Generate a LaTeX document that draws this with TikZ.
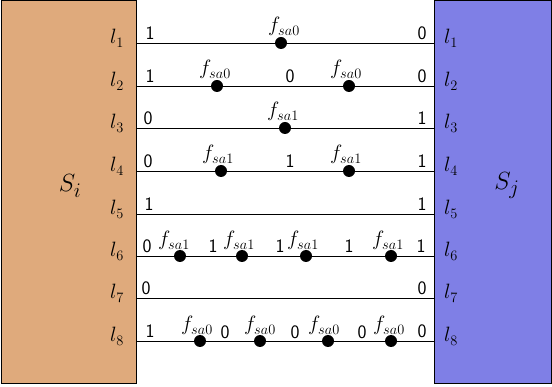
\documentclass[tikz,border=0pt]{standalone}
\usetikzlibrary{calc}
\definecolor{lbox}{RGB}{223,170,124}
\definecolor{rbox}{RGB}{127,127,230}
\newcommand{\mathsz}{\fontsize{19.5}{22}\selectfont}
\newcommand{\digsz}{\fontsize{19}{22}\selectfont}
\tikzset{
  x=1pt,y=-1pt,
  boxst/.style={draw=black,line width=0.8pt,inner sep=0pt,minimum height=382.5pt,anchor=north west},
  wire/.style={line width=0.8pt},
  fdot/.style={circle,fill=black,inner sep=0pt,minimum size=12pt},
  flab/.style={font=\mathsz,inner sep=0pt,anchor=base},
  val/.style={font=\sffamily\digsz,inner sep=0pt,anchor=base},
  llab/.style={font=\mathsz,inner sep=0pt,anchor=base},
}
\begin{document}
\begin{tikzpicture}
\useasboundingbox (0,0) rectangle (552,387);
\node[boxst,fill=lbox,minimum width=135.5pt] (SI) at (0.5,0.5) {};
\node[boxst,fill=rbox,minimum width=117pt] (SJ) at (434,0.5) {};
\node[font=\fontsize{29}{32}\selectfont] (si) at (70,186) {$S_i$};
\node[font=\fontsize{29}{32}\selectfont] (sj) at (507,186) {$S_j$};
\foreach \i/\y in {1/43,2/86,3/128,4/171,5/214,6/256,7/298,8/341}{
  \coordinate (L\i) at (136,\y);
  \coordinate (R\i) at (434,\y);
  \draw[wire] (L\i) -- (R\i);
  \node[llab] (ll\i) at (117,\y+1) {$l_{\i}$};
  \node[llab] (rl\i) at (451,\y+1) {$l_{\i}$};
}
% line 1
\node[val] (v1a) at (150,40) {1};
\node[val] (v1b) at (422,40) {0};
\node[fdot] (d1a) at (281,43) {};
\node[flab] (f1a) at (284,32) {$f_{sa0}$};
% line 2
\node[val] (v2a) at (150,83) {1};
\node[val] (v2b) at (290,83) {0};
\node[val] (v2c) at (422,83) {0};
\node[fdot] (d2a) at (217,86) {};
\node[flab] (f2a) at (215,75) {$f_{sa0}$};
\node[fdot] (d2b) at (349,86) {};
\node[flab] (f2b) at (346,75) {$f_{sa0}$};
% line 3
\node[val] (v3a) at (148,125) {0};
\node[val] (v3b) at (422,125) {1};
\node[fdot] (d3a) at (285,128) {};
\node[flab] (f3a) at (283,117) {$f_{sa1}$};
% line 4
\node[val] (v4a) at (148,168) {0};
\node[val] (v4b) at (290,168) {1};
\node[val] (v4c) at (422,168) {1};
\node[fdot] (d4a) at (221,171) {};
\node[flab] (f4a) at (218,160) {$f_{sa1}$};
\node[fdot] (d4b) at (349,171) {};
\node[flab] (f4b) at (346,160) {$f_{sa1}$};
% line 5
\node[val] (v5a) at (149,211) {1};
\node[val] (v5b) at (422,211) {1};
% line 6
\node[val] (v6a) at (147,253) {0};
\node[val] (v6b) at (213,253) {1};
\node[val] (v6c) at (280,253) {1};
\node[val] (v6d) at (349,253) {1};
\node[val] (v6e) at (421,253) {1};
\node[fdot] (d6a) at (180,256) {};
\node[flab] (f6a) at (174,246) {$f_{sa1}$};
\node[fdot] (d6b) at (242,256) {};
\node[flab] (f6b) at (239,246) {$f_{sa1}$};
\node[fdot] (d6c) at (306,256) {};
\node[flab] (f6c) at (303,246) {$f_{sa1}$};
\node[fdot] (d6d) at (391,256) {};
\node[flab] (f6d) at (388,246) {$f_{sa1}$};
% line 7
\node[val] (v7a) at (146,295) {0};
\node[val] (v7b) at (422,295) {0};
% line 8
\node[val] (v8a) at (150,338) {1};
\node[val] (v8b) at (225,339) {0};
\node[val] (v8c) at (295,339) {0};
\node[val] (v8d) at (362,339) {0};
\node[val] (v8e) at (422,338) {0};
\node[fdot] (d8a) at (200,341) {};
\node[flab] (f8a) at (197,331) {$f_{sa0}$};
\node[fdot] (d8b) at (260,341) {};
\node[flab] (f8b) at (260,331) {$f_{sa0}$};
\node[fdot] (d8c) at (328,341) {};
\node[flab] (f8c) at (324,331) {$f_{sa0}$};
\node[fdot] (d8d) at (391,341) {};
\node[flab] (f8d) at (389,331) {$f_{sa0}$};
\end{tikzpicture}
\end{document}
